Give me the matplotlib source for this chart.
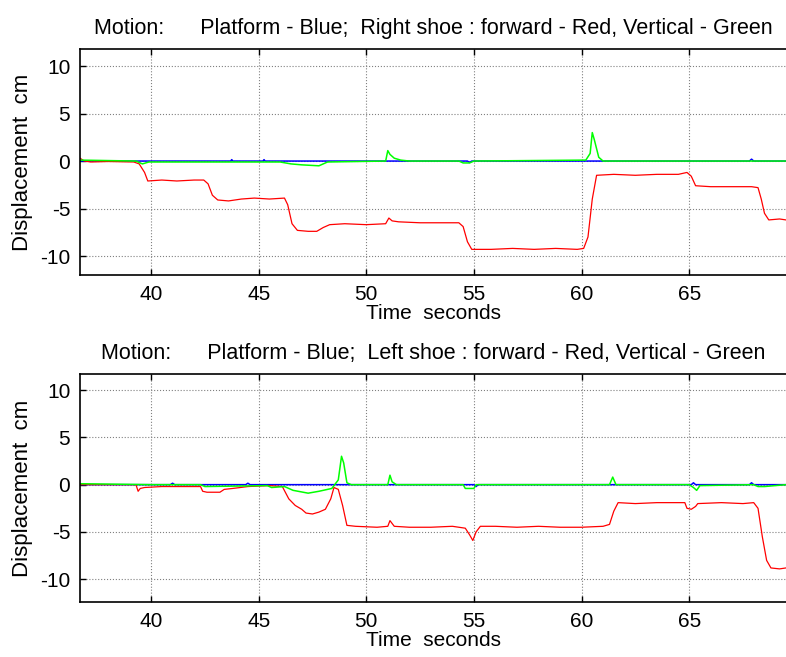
import numpy as np
import matplotlib.pyplot as plt

plt.rcParams['font.family'] = ['Liberation Sans', 'DejaVu Sans']
plt.rcParams['axes.unicode_minus'] = False

# ---- right shoe (top panel) ----
t_red_r = [36.7, 36.9, 37.2, 38.0, 39.2, 39.45, 39.7, 39.85, 40.5, 41.2, 42.0, 42.45, 42.65, 42.85,
           43.1, 43.6, 44.2, 44.8, 45.5, 46.2, 46.35, 46.55, 46.8, 47.3, 47.7, 48.0, 48.3, 49.0,
           50.0, 50.9, 51.05, 51.2, 51.5, 52.5, 53.5, 54.3, 54.5, 54.7, 54.9, 55.8, 56.8, 57.8,
           58.8, 59.8, 60.1, 60.3, 60.5, 60.7, 61.5, 62.5, 63.5, 64.5, 64.9, 65.1, 65.3, 66.0,
           67.0, 67.9, 68.2, 68.35, 68.5, 68.7, 69.2, 69.5]
v_red_r = [0.3, 0.0, -0.1, -0.05, -0.1, -0.3, -1.2, -2.1, -2.0, -2.1, -2.0, -2.0, -2.4, -3.6,
           -4.1, -4.2, -4.0, -3.9, -4.0, -3.9, -4.6, -6.6, -7.3, -7.4, -7.4, -7.0, -6.7, -6.6,
           -6.7, -6.6, -6.0, -6.3, -6.4, -6.5, -6.5, -6.5, -6.9, -8.5, -9.3, -9.3, -9.2, -9.3,
           -9.2, -9.3, -9.2, -8.0, -4.0, -1.5, -1.4, -1.5, -1.4, -1.4, -1.2, -1.6, -2.6, -2.7,
           -2.7, -2.7, -2.8, -4.0, -5.5, -6.2, -6.1, -6.2]

t_grn_r = [36.7, 39.3, 39.6, 39.9, 44.0, 46.0, 46.5, 47.0, 47.8, 48.2, 50.9, 51.0, 51.1, 51.3,
           51.6, 52.0, 54.3, 54.5, 54.8, 55.0, 60.2, 60.4, 60.5, 60.6, 60.8, 61.0, 69.5]
v_grn_r = [0.1, 0.0, -0.3, -0.1, -0.1, -0.1, -0.3, -0.4, -0.5, -0.1, 0.0, 1.1, 0.7, 0.3,
           0.1, 0.0, 0.0, -0.2, -0.2, 0.0, 0.1, 0.8, 3.0, 2.2, 0.4, 0.0, 0.0]

t_blu_r = [36.7, 43.7, 43.75, 43.8, 45.2, 45.25, 45.3, 54.7, 54.8, 54.9, 67.8, 67.9, 68.0, 69.5]
v_blu_r = [0.0, 0.0, 0.15, 0.0, 0.0, 0.15, 0.0, 0.0, -0.15, 0.0, 0.0, 0.2, 0.0, 0.0]

# ---- left shoe (bottom panel) ----
t_red_l = [36.7, 39.3, 39.4, 39.5, 39.7, 40.5, 41.5, 42.3, 42.4, 42.6, 43.2, 43.4, 43.8, 44.5,
           45.5, 46.1, 46.4, 46.7, 47.0, 47.2, 47.5, 47.8, 48.1, 48.35, 48.5, 48.7, 48.9, 49.1,
           49.5, 50.5, 51.0, 51.1, 51.3, 52.0, 53.0, 54.0, 54.6, 54.8, 54.95, 55.1, 55.3, 56.0,
           57.0, 58.0, 59.0, 60.0, 61.0, 61.3, 61.5, 61.7, 62.5, 63.5, 64.8, 64.9, 65.1, 65.3,
           65.4, 66.5, 67.5, 68.0, 68.2, 68.4, 68.6, 68.8, 69.2, 69.5]
v_red_l = [0.0, 0.0, -0.7, -0.4, -0.3, -0.2, -0.2, -0.2, -0.7, -0.8, -0.8, -0.5, -0.4, -0.2,
           -0.1, -0.2, -1.5, -2.2, -2.6, -3.0, -3.1, -2.9, -2.6, -1.5, -0.3, -0.5, -2.2, -4.3,
           -4.4, -4.5, -4.4, -3.8, -4.4, -4.5, -4.5, -4.4, -4.6, -5.3, -5.9, -5.0, -4.4, -4.4,
           -4.5, -4.4, -4.5, -4.5, -4.4, -4.2, -2.8, -1.9, -2.0, -1.9, -1.9, -2.5, -2.6, -2.3,
           -2.0, -1.9, -2.0, -1.9, -2.5, -5.5, -8.0, -8.8, -8.9, -8.8]

t_grn_l = [36.7, 40.0, 42.3, 42.5, 45.4, 45.6, 46.2, 46.6, 47.3, 47.8, 48.4, 48.7, 48.85, 48.95,
           49.1, 49.3, 51.0, 51.1, 51.2, 51.4, 54.5, 54.6, 55.0, 55.1, 61.3, 61.45, 61.6, 65.0,
           65.2, 65.35, 65.5, 68.0, 68.2, 68.5, 69.5]
v_grn_l = [0.1, 0.0, 0.0, -0.2, -0.1, -0.3, -0.2, -0.6, -0.9, -0.7, -0.4, 0.5, 3.0, 2.3,
           0.2, 0.0, 0.0, 1.0, 0.3, 0.0, 0.0, -0.4, -0.4, 0.0, 0.0, 0.8, 0.0, 0.0,
           -0.3, -0.6, -0.1, 0.0, -0.2, -0.2, 0.0]

t_blu_l = [36.7, 40.9, 41.0, 41.1, 44.4, 44.5, 44.6, 55.0, 55.1, 55.2, 65.1, 65.2, 65.3, 67.8, 67.9, 68.0, 69.5]
v_blu_l = [0.0, 0.0, 0.15, 0.0, 0.0, 0.15, 0.0, 0.0, -0.2, 0.0, 0.0, 0.2, 0.0, 0.0, 0.2, 0.0, 0.0]

x_ticks = [40, 45, 50, 55, 60, 65]
y_ticks = [-10, -5, 0, 5, 10]

W, H = 786, 657
panels = [
    ('Motion:      Platform - Blue;  Right shoe : forward - Red, Vertical - Green',
     t_blu_r, v_blu_r, t_red_r, v_red_r, t_grn_r, v_grn_r, (-12.0, 11.8),
     [80 / W, 1 - 275 / H, (W - 80) / W, 226 / H]),
    ('Motion:      Platform - Blue;  Left shoe : forward - Red, Vertical - Green',
     t_blu_l, v_blu_l, t_red_l, v_red_l, t_grn_l, v_grn_l, (-12.43, 11.66),
     [80 / W, 1 - 602.3 / H, (W - 80) / W, 228 / H]),
]

fig = plt.figure(figsize=(7.86, 6.57), dpi=100)

for title, tb, vb, tr, vr, tg, vg, ylim, pos in panels:
    ax = fig.add_axes(pos)
    ax.plot(tb, vb, color='#0000ff', lw=1.1)
    ax.plot(tr, vr, color='#ff0000', lw=0.9)
    ax.plot(tg, vg, color='#00ff00', lw=1.1)
    ax.set_xlim(36.7, 69.5)
    ax.set_ylim(*ylim)
    ax.set_xticks(x_ticks)
    ax.set_yticks(y_ticks)
    ax.grid(True, color='0.5', linestyle=':', linewidth=0.8)
    ax.tick_params(direction='in', length=4, width=1, labelsize=15, top=True, pad=7)
    for s in ax.spines.values():
        s.set_linewidth(1.2)
    ax.spines['right'].set_visible(False)
    ax.set_title(title, fontsize=15.5, pad=11)
    ax.set_xlabel('Time  seconds', fontsize=15, labelpad=0)
    ax.set_ylabel('Displacement  cm', fontsize=16, labelpad=5)

plt.savefig('out.png', dpi=100)
